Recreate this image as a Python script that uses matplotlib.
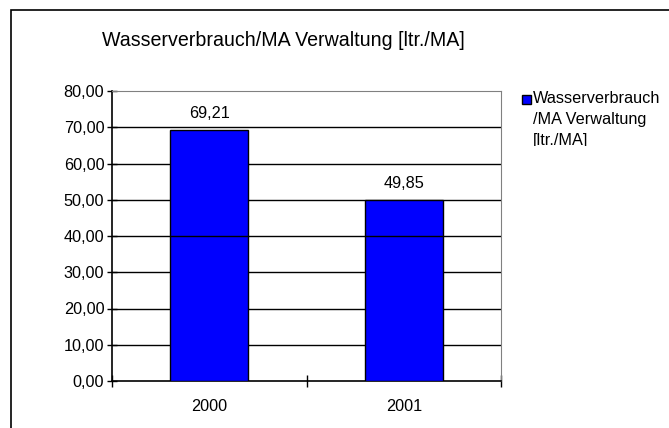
import matplotlib.pyplot as plt
from matplotlib.patches import Rectangle
from matplotlib.transforms import Bbox

# data
years = ['2000', '2001']
values = [69.21, 49.85]
title = 'Wasserverbrauch/MA Verwaltung [ltr./MA]'
legend_label = 'Wasserverbrauch\n/MA Verwaltung\n[ltr./MA]'
yticks = [0, 10, 20, 30, 40, 50, 60, 70, 80]

blue = '#0000FF'

plt.rcParams['font.family'] = ['Liberation Sans', 'DejaVu Sans']

W, H = 669, 428
fig = plt.figure(figsize=(W / 100, H / 100), dpi=100)

# outer chart frame
fig.patches.append(Rectangle((11 / W, -0.1), 1.2, 1.1 - 10 / H, transform=fig.transFigure,
                             fill=False, edgecolor='black', linewidth=1.2))

ax = fig.add_axes([112 / W, 1 - 381 / H, (501 - 112) / W, (381 - 91) / H])

x = [0.5, 1.5]
bars = ax.bar(x, values, width=0.4, color=blue, edgecolor='black', linewidth=1,
              zorder=3)

ax.set_xlim(0, 2)
ax.set_ylim(0, 80)
ax.set_yticks(yticks)
ax.set_yticklabels([('%.2f' % v).replace('.', ',') for v in yticks])
ax.set_xticks([0, 1, 2])
ax.set_xticklabels([])
ax.set_xticks(x, minor=True)
ax.set_xticklabels(years, minor=True)
ax.tick_params(axis='x', which='minor', length=0, pad=13, labelsize=11.7)
ax.tick_params(axis='x', which='major', direction='inout', length=8, width=1)
ax.tick_params(axis='y', direction='inout', length=7, width=1, labelsize=11.7, pad=2)

for v in yticks[1:-1]:
    # the 40 line sits over the bars in the original
    ax.axhline(v, color='black', linewidth=1, zorder=4 if v == 40 else 2)

for s in ['top', 'right']:
    ax.spines[s].set_color('#808080')
for s in ['left', 'bottom']:
    ax.spines[s].set_color('black')
    ax.spines[s].set_linewidth(1.2)

for xi, v in zip(x, values):
    ax.annotate(('%.2f' % v).replace('.', ','), (xi, v), xytext=(0, 9),
                textcoords='offset points', ha='center', va='baseline', fontsize=11.7)

fig.text(102 / W, 1 - 40 / H, title, fontsize=14.1, ha='left', va='center')

# legend (marker + wrapped label, clipped at the bottom like the original)
fig.patches.append(Rectangle((522 / W, 1 - 104 / H), 9 / W, 9 / H, transform=fig.transFigure,
                             facecolor=blue, edgecolor='black', linewidth=1))
t = fig.text(533 / W, 1 - 91 / H, legend_label, fontsize=11.7, ha='left', va='top',
             linespacing=1.5)
t.set_clip_on(True)
t.set_clip_box(fig.transFigure.transform_bbox(Bbox.from_extents(0, 1 - 146 / H, 1, 1)))

fig.savefig('out.png', dpi=100)
